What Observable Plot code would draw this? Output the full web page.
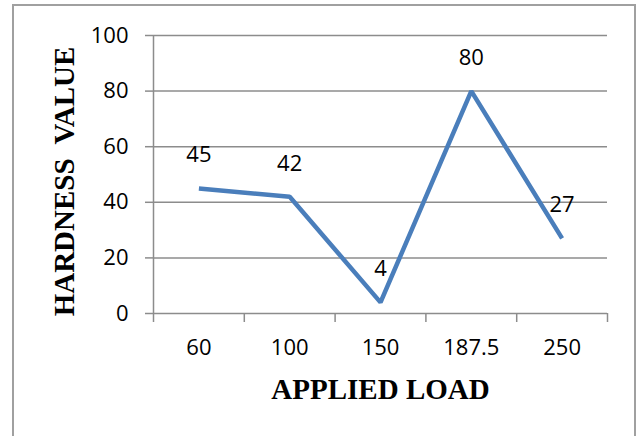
<!DOCTYPE html>
<html>
<head>
<meta charset="utf-8">
<script src="https://cdn.jsdelivr.net/npm/d3@7"></script>
<script src="https://cdn.jsdelivr.net/npm/@observablehq/plot@0.6"></script>
<style>
  html, body { margin: 0; padding: 0; background: #fff; }
  #wrap { position: relative; width: 642px; height: 436px; overflow: hidden; }
  #border { position: absolute; left: 12px; top: 4px; width: 624px; height: 460px; border: 2px solid #a0a0a0; pointer-events: none; box-sizing: border-box; }
</style>
</head>
<body>
<div id="wrap"><div id="border"></div></div>
<script>
const loads = ["60", "100", "150", "187.5", "250"];
const hardness = [45, 42, 4, 80, 27];
const yTicks = [0, 20, 40, 60, 80, 100];
const xTitle = "APPLIED LOAD";
const yTitle = "HARDNESS  VALUE";

const data = loads.map((l, i) => ({i, load: l, value: hardness[i]}));
const boundaries = d3.range(loads.length + 1).map(k => k - 0.5);

const gridColor = "#8c8c8c";
const font = "'Open Sans', sans-serif";
const serif = "'Liberation Serif', 'Times New Roman', serif";

const chart = Plot.plot({
  width: 642,
  height: 436,
  marginLeft: 153,
  marginRight: 35,
  marginTop: 35,
  marginBottom: 123,
  style: {fontFamily: font, fontSize: "22px", color: "#000", background: "transparent", overflow: "visible"},
  x: {domain: [-0.5, loads.length - 0.5], axis: null},
  y: {domain: [0, 100], axis: null},
  marks: [
    Plot.ruleY(yTicks, {stroke: gridColor, strokeWidth: 1.5}),
    Plot.ruleX([-0.5], {y1: 0, y2: 100, stroke: gridColor, strokeWidth: 1.5}),
    Plot.axisY({ticks: yTicks, tickSize: 8, tickPadding: 17, stroke: gridColor, strokeWidth: 1.5, fontSize: 22, fill: "#000", label: null}),
    Plot.axisX({ticks: boundaries, tickSize: 9, tickFormat: () => "", stroke: gridColor, strokeWidth: 1.5, label: null}),
    Plot.axisX({ticks: d3.range(loads.length), tickSize: 0, tickPadding: 26, tickFormat: i => loads[i], fontSize: 22, fill: "#000", label: null}),
    Plot.line(data, {x: "i", y: "value", stroke: "#4a7ebb", strokeWidth: 4.5, strokeLinejoin: "miter", strokeLinecap: "butt"}),
    Plot.text(data, {x: "i", y: "value", text: d => String(d.value), dy: -33, lineAnchor: "middle", fontSize: 22, fill: "#000"}),
    Plot.text([xTitle], {frameAnchor: "bottom", dy: 76, textAnchor: "middle", lineAnchor: "middle", fontFamily: serif, fontWeight: "bold", fontSize: 29, fill: "#000"}),
    Plot.text([yTitle], {frameAnchor: "left", dx: -89, dy: 7, rotate: -90, textAnchor: "middle", lineAnchor: "middle", fontFamily: serif, fontWeight: "bold", fontSize: 29, fill: "#000"})
  ]
});
document.getElementById("wrap").prepend(chart);
</script>
</body>
</html>
